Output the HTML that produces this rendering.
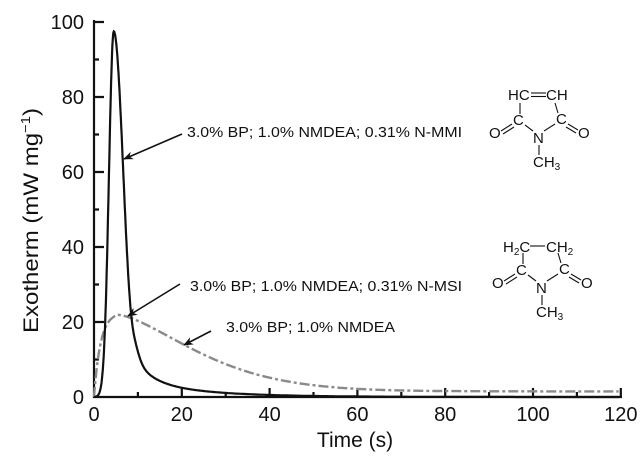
<!DOCTYPE html>
<html><head><meta charset="utf-8"><style>
html,body{margin:0;padding:0;background:#fff;}
svg{display:block;font-family:"Liberation Sans",Arial,sans-serif;}
</style></head><body>
<svg id="s" width="640" height="460" viewBox="0 0 640 460" xmlns="http://www.w3.org/2000/svg">
<defs><marker id="ah" viewBox="0 0 10 10" refX="9" refY="5" markerWidth="10" markerHeight="10" markerUnits="userSpaceOnUse" orient="auto"><path d="M0,1 L10,5 L0,9 L3,5 z" fill="#111"/></marker>
<g id="ring" stroke="#111" stroke-width="1.1">
<line x1="520" y1="103" x2="520" y2="114"/><line x1="555" y1="103" x2="558" y2="113"/>
<line x1="525" y1="125" x2="533" y2="131"/><line x1="544" y1="131" x2="555" y2="124"/>
<line x1="539" y1="145" x2="539" y2="155"/>
<line x1="501" y1="131" x2="512" y2="124"/><line x1="503" y1="134" x2="514" y2="127"/>
<line x1="568" y1="124" x2="578" y2="130"/><line x1="566" y1="127" x2="576" y2="133"/>
</g></defs>
<g id="axes" stroke="#111" stroke-width="2.2" fill="none"></g>
<path id="gray" fill="none" stroke="#8a8a8a" stroke-width="2.4" stroke-dasharray="10,3,3,3"/>
<path id="black" fill="none" stroke="#111" stroke-width="2.2"/>
<g id="labels" font-size="20" fill="#111"></g>
<text x="355" y="447" font-size="21" text-anchor="middle" fill="#111">Time (s)</text>
<text transform="translate(38,333) rotate(-90)" font-size="21" fill="#111" textLength="225" lengthAdjust="spacingAndGlyphs">Exotherm (mW mg<tspan font-size="13" dy="-8">−1</tspan><tspan dy="8">)</tspan></text>
<g font-size="14.5" fill="#111">
<text x="187" y="137" textLength="275" lengthAdjust="spacingAndGlyphs">3.0% BP; 1.0% NMDEA; 0.31% N-MMI</text>
<text x="190" y="291" textLength="272" lengthAdjust="spacingAndGlyphs">3.0% BP; 1.0% NMDEA; 0.31% N-MSI</text>
<text x="226" y="332" textLength="169" lengthAdjust="spacingAndGlyphs">3.0% BP; 1.0% NMDEA</text>
</g>
<g stroke="#111" stroke-width="1.6" marker-end="url(#ah)">
<line x1="182" y1="134" x2="124" y2="159"/>
<line x1="180" y1="284" x2="128" y2="316"/>
<line x1="211" y1="331" x2="184" y2="345"/>
</g>
<g font-size="15" fill="#111">
<text x="508" y="100">HC</text><text x="546" y="100">CH</text>
<line x1="531" y1="93" x2="546" y2="93" stroke="#111" stroke-width="1.1"/><line x1="531" y1="96.5" x2="546" y2="96.5" stroke="#111" stroke-width="1.1"/>
<text x="513" y="125">C</text><text x="556" y="124">C</text>
<text x="489" y="138">O</text><text x="578" y="138">O</text>
<text x="533" y="143">N</text>
<text x="533" y="167">CH<tspan font-size="10" dy="3">3</tspan></text>
<use href="#ring"/>
</g>
<g font-size="15" fill="#111" transform="translate(3,150)">
<text x="500" y="102">H<tspan font-size="10" dy="3">2</tspan><tspan dy="-3">C</tspan></text>
<text x="543" y="102">CH<tspan font-size="10" dy="3">2</tspan></text>
<line x1="527" y1="96" x2="542" y2="96" stroke="#111" stroke-width="1.1"/>
<text x="513" y="125">C</text><text x="556" y="124">C</text>
<text x="489" y="138">O</text><text x="578" y="138">O</text>
<text x="533" y="143">N</text>
<text x="533" y="167">CH<tspan font-size="10" dy="3">3</tspan></text>
<use href="#ring"/>
</g>
</svg>
<script>
var X=function(t){return 94+4.39*t}, Y=function(v){return 397-3.75*v};
var ax=document.getElementById('axes'), lb=document.getElementById('labels');
var s='M94,20 L94,397 L622,397';
for(var v=0;v<=100;v+=10){var l=(v%20==0)?10:5;s+=' M94,'+Y(v)+' L'+(94+l)+','+Y(v);}
for(var t=10;t<=120;t+=10){var l=(t%20==0)?9:5;s+=' M'+X(t)+',397 L'+X(t)+','+(397-l);}
ax.innerHTML='<path d="'+s+'"/>';
var h='';
for(var v=0;v<=100;v+=20)h+='<text x="84" y="'+(Y(v)+7)+'" text-anchor="end">'+v+'</text>';
for(var t=0;t<=120;t+=20)h+='<text x="'+X(t)+'" y="421" text-anchor="middle">'+t+'</text>';
lb.innerHTML=h;
function bk(t){var g;if(t<4.5)g=97.5*Math.exp(-Math.pow((t-4.5)/1.55,2));else g=97.5*Math.exp(-Math.pow((t-4.5)/3.1,2));
 var tl=5*Math.exp(-(t-10)/4)+4*Math.exp(-(t-10)/15);var w=1/(1+Math.exp(-(t-9)/0.5));return g+tl*w;}
function gr(t){if(t<5.5)return 22.5*(1-Math.exp(-t/1.5));return 1.5+20.4*Math.exp(-Math.pow((t-5.5)/24,1.5));}
var pb='',pg='';
for(var t=0;t<=120;t+=(t<30?0.1:0.5)){pb+=(pb?'L':'M')+X(t).toFixed(1)+','+Y(bk(t)).toFixed(1);
 pg+=(pg?'L':'M')+X(t).toFixed(1)+','+Y(gr(t)).toFixed(1);}
document.getElementById('black').setAttribute('d',pb);
document.getElementById('gray').setAttribute('d',pg);
</script>
</body></html>
